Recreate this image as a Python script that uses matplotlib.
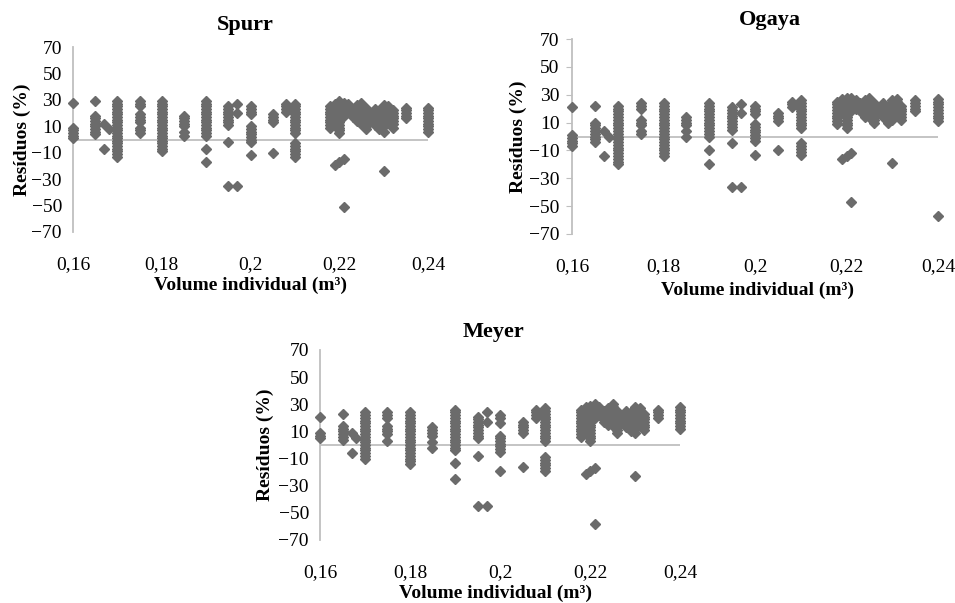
import numpy as np
import matplotlib.pyplot as plt

plt.rcParams['font.family'] = ['Liberation Serif', 'DejaVu Serif']

# columns of individual volume (m3) and the residuals (%) read for each column
vol_cols = [0.160, 0.165, 0.167, 0.168, 0.170, 0.175, 0.180, 0.185, 0.190, 0.195,
            0.197, 0.200, 0.205, 0.208, 0.210, 0.218, 0.219, 0.220, 0.221, 0.222,
            0.223, 0.224, 0.225, 0.226, 0.228, 0.229, 0.230, 0.231, 0.232, 0.235,
            0.240]

spurr_res = [
    [28, 9, 7, 5, 3, 1],
    [29, 18, 16, 14, 12, 10, 8, 6, 4],
    [12, -7],
    [8],
    [29, 27, 25, 23, 21, 19, 17, 15, 13, 11, 9, 7, 5, 3, 1, -1, -3, -5, -7, -9, -11, -13],
    [29, 27, 25, 19, 17, 15, 13, 9, 7, 5],
    [29, 27, 25, 23, 21, 19, 17, 15, 13, 11, 9, 7, 5, 3, 1, -1, -3, -5, -7, -9],
    [18, 16, 14, 12, 10, 6, 3],
    [29, 27, 25, 23, 21, 19, 17, 15, 13, 11, 9, 7, 5, 3, -7, -17],
    [25, 23, 21, 19, 17, 15, 13, 11, -2, -35],
    [27, 20, -35],
    [25, 23, 21, 19, 10, 8, 6, 4, 2, 0, -2, -12],
    [19, 17, 15, 13, -10],
    [27, 25, 23, 21],
    [27, 25, 23, 21, 19, 17, 15, 13, 11, 9, 7, 5, -3, -5, -7, -9, -11, -13],
    [25, 23, 21, 19, 17, 15, 13, 11, 9],
    [27, 25, 23, 21, 19, -19],
    [29, 27, 25, 23, 21, 19, 17, 15, 13, 11, 9, 7, 5, -17],
    [28, 26, 24, 22, 20, 18, -15, -51],
    [27, 25, 23, 21],
    [23, 21, 19, 17],
    [26, 24, 22, 20, 18, 16, 14],
    [28, 26, 24, 22, 20, 18, 16, 14, 12],
    [24, 22, 20, 18, 16, 14, 12, 10, 8],
    [23, 21, 19, 17, 15, 13, 11],
    [22, 20, 18, 16, 14, 12, 10, 8],
    [26, 24, 22, 20, 18, 16, 14, 12, 10, 6, -24],
    [25, 23, 21, 19, 17, 15],
    [22, 20, 18, 16, 14, 12, 9],
    [24, 22, 20, 18, 16],
    [24, 22, 20, 18, 16, 14, 12, 10, 8, 6],
]

ogaya_res = [
    [21, 1, -1, -3, -5, -7],
    [22, 10, 8, 6, 4, 2, 0, -2, -4],
    [4, -14],
    [0],
    [22, 20, 18, 16, 14, 12, 10, 8, 6, 4, 2, 0, -2, -4, -6, -8, -10, -12, -14, -16, -18, -20],
    [24, 22, 20, 12, 10, 8, 4, 2],
    [24, 22, 20, 18, 16, 14, 12, 10, 8, 6, 4, 2, 0, -2, -4, -6, -8, -10, -12, -14],
    [14, 12, 10, 8, 4, 0],
    [24, 22, 20, 18, 16, 14, 12, 10, 8, 6, 4, 2, 0, -10, -20],
    [21, 19, 17, 15, 13, 11, 9, 7, 5, -5, -36],
    [23, 17, -36],
    [22, 20, 18, 16, 9, 7, 5, 3, 1, -1, -3, -13],
    [17, 15, 13, 11, -10],
    [25, 23, 21],
    [26, 24, 22, 20, 18, 16, 14, 12, 10, 8, 6, -5, -7, -9, -11, -13],
    [25, 23, 21, 19, 17, 15, 13, 11, 9],
    [27, 25, 23, 21, 19, 17, -16],
    [28, 26, 24, 22, 20, 18, 16, 14, 12, 10, 8, 6, -14],
    [28, 26, 24, 22, 20, 18, -12, -47],
    [26, 24, 22, 20],
    [24, 22, 20, 18],
    [26, 24, 22, 20, 18, 16, 14],
    [28, 26, 24, 22, 20, 18, 16, 14],
    [24, 22, 20, 18, 16, 14, 12, 10],
    [24, 22, 20, 18, 16, 14],
    [22, 20, 18, 16, 14, 12, 10],
    [26, 24, 22, 20, 18, 16, 14, 12, -19],
    [27, 25, 23, 21, 19, 17],
    [22, 20, 18, 16, 14, 12],
    [26, 24, 22, 20, 18],
    [27, 25, 23, 21, 19, 17, 15, 13, 11, -57],
]

meyer_res = [
    [21, 9, 7, 5],
    [23, 14, 12, 10, 8, 6, 4],
    [9, -6],
    [5],
    [24, 22, 20, 18, 16, 14, 12, 10, 8, 6, 4, 2, 0, -2, -4, -6, -8, -10],
    [24, 22, 20, 14, 12, 10, 8, 3],
    [24, 22, 20, 18, 16, 14, 12, 10, 8, 6, 4, 2, 0, -2, -4, -6, -8, -10, -12, -14],
    [13, 11, 9, 7, 2, -2],
    [26, 24, 22, 20, 18, 16, 14, 12, 10, 8, 6, 4, 2, 0, -2, -4, -13, -25],
    [21, 19, 17, 15, 13, 11, 9, 7, 5, -8, -45],
    [24, 17, -45],
    [22, 20, 16, 7, 5, 3, 1, -1, -3, -5, -19],
    [17, 15, 13, 11, 9, -16],
    [26, 24, 22, 20],
    [27, 25, 23, 21, 19, 17, 15, 13, 11, 9, 7, 5, 3, -9, -11, -13, -15, -17, -19],
    [26, 24, 22, 20, 18, 16, 14, 12, 10, 8, 6],
    [28, 26, 24, 22, 20, 18, -21],
    [29, 27, 25, 23, 21, 19, 17, 15, 13, 11, 9, 7, 5, 3, -19],
    [30, 28, 26, 24, 22, 20, -17, -58],
    [28, 26, 24, 22],
    [25, 23, 21, 19, 17],
    [27, 25, 23, 21, 19, 17, 15],
    [30, 28, 26, 24, 22, 20, 18, 16, 14],
    [25, 23, 21, 19, 17, 15, 13, 11, 9],
    [25, 23, 21, 19, 17, 15, 13],
    [24, 22, 20, 18, 16, 14, 12, 10],
    [28, 26, 24, 22, 20, 18, 16, 14, 12, 9, -23],
    [27, 25, 23, 21, 19, 17],
    [23, 21, 19, 17, 15, 13, 11],
    [26, 24, 22, 20],
    [28, 26, 24, 22, 20, 18, 16, 14, 12],
]

x_ticks = [0.16, 0.18, 0.20, 0.22, 0.24]
x_ticklabels = ['0,16', '0,18', '0,2', '0,22', '0,24']
y_ticks = [70, 50, 30, 10, -10, -30, -50, -70]

W, H = 955, 603
fig = plt.figure(figsize=(W / 100, H / 100), dpi=100)

def px_axes(left, top, right, bottom):
    return fig.add_axes([left / W, 1 - bottom / H, (right - left) / W, (bottom - top) / H])

# (name, residuals, axes box in px, title pos, xlabel pos, ylabel pos, y ticks drawn)
panels = [
    ('Spurr', spurr_res, (73, 47, 428, 232), (245, 25), (250, 285), (22, 140), False),
    ('Ogaya', ogaya_res, (572, 39, 938, 234), (770, 20), (757, 290), (518, 137), True),
    ('Meyer', meyer_res, (320, 350, 680, 540), (493, 332), (495, 593), (265, 445), False),
]

marker_col = '#6b6b6b'
axis_col = '#bfbfbf'

for name, res, box, tpos, xlpos, ylpos, yticks_on in panels:
    ax = px_axes(*box)
    xs, ys = [], []
    for x, col in zip(vol_cols, res):
        xs.extend([x] * len(col))
        ys.extend(col)
    ax.axhline(0, color=axis_col, lw=1.3, zorder=1)
    ax.plot(xs, ys, ls='none', marker='D', ms=4.7, color=marker_col,
            mec=marker_col, clip_on=False, zorder=3)
    ax.set_xlim(0.16, 0.24)
    ax.set_ylim(-70, 70)
    ax.set_xticks(x_ticks)
    ax.set_xticklabels(x_ticklabels)
    ax.set_yticks(y_ticks)
    for s in ['top', 'right', 'bottom']:
        ax.spines[s].set_visible(False)
    ax.spines['left'].set_color(axis_col)
    ax.spines['left'].set_linewidth(1.3)
    ax.tick_params(axis='x', length=0, pad=17, labelsize=14)
    ax.tick_params(axis='y', length=4 if yticks_on else 0, color=axis_col,
                   pad=8 if not yticks_on else 5, labelsize=14)
    fig.text(tpos[0] / W, 1 - tpos[1] / H, name, ha='center', va='center',
             fontsize=16, fontweight='bold')
    fig.text(xlpos[0] / W, 1 - xlpos[1] / H, 'Volume individual (m³)', ha='center',
             va='center', fontsize=14, fontweight='bold')
    fig.text(ylpos[0] / W, 1 - ylpos[1] / H, 'Resíduos (%)', ha='center', va='center',
             rotation=90, fontsize=14, fontweight='bold')

fig.savefig('out.png', dpi=100)
